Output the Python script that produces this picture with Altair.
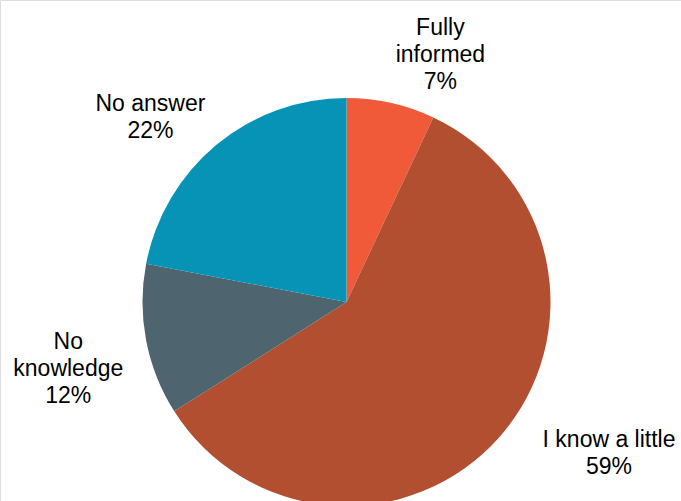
import altair as alt
import pandas as pd

categories = ["Fully informed", "I know a little", "No knowledge", "No answer"]
label_lines = [["Fully", "informed"], ["I know a little"], ["No", "knowledge"], ["No answer"]]
values = [7, 59, 12, 22]
colors = ["#F05A38", "#B34F31", "#4E646F", "#0693B5"]

df = pd.DataFrame({
    "category": categories,
    "value": values,
    "order": list(range(len(categories))),
    "label": [lines + [f"{v}%"] for lines, v in zip(label_lines, values)],
})

CX, CY, R = 346.5, 302, 204
LR = 270
FONT = "Liberation Sans"
FS = 23
LH = 27

theta_scale = alt.Scale(domain=[0, 100], range=[0, 6.283185307179586])

base = alt.Chart(df)

pie = base.mark_arc(stroke=None).encode(
    theta=alt.Theta("value:Q", stack=True),
    order=alt.Order("order:Q"),
    color=alt.Color("category:N", scale=alt.Scale(domain=categories, range=colors), legend=None),
    radius=alt.value(R),
    x=alt.value(CX),
    y=alt.value(CY),
)

# label offsets from the mid-angle anchor (block centre)
offsets = {
    "Fully informed": (35, 16),
    "I know a little": (60, -27),
    "No knowledge": (-13, 16),
    "No answer": (-24, 24),
}

layers = [pie]
for cat, lines in zip(categories, label_lines):
    dx, dy = offsets[cat]
    n = len(lines) + 1
    dy = dy - (n - 1) * LH / 2
    t = (
        base.transform_window(cum="sum(value)", sort=[alt.SortField("order")])
        .transform_calculate(mid="datum.cum - datum.value / 2")
        .transform_filter(alt.datum.category == cat)
        .mark_text(font=FONT, fontSize=FS, lineHeight=LH, color="#000000",
                   align="center", baseline="middle", dx=dx, dy=dy)
        .encode(
            theta=alt.Theta("mid:Q", stack=None, scale=theta_scale),
            radius=alt.value(LR),
            x=alt.value(CX),
            y=alt.value(CY),
            text=alt.Text("label"),
        )
    )
    layers.append(t)

chart = alt.layer(*layers).properties(
    width=681, height=501,
    autosize=alt.AutoSizeParams(type="none"),
    padding=0,
).configure_view(stroke=None).configure(background="white")

chart.save("out.html", embed_options={"renderer": "svg", "actions": False})
